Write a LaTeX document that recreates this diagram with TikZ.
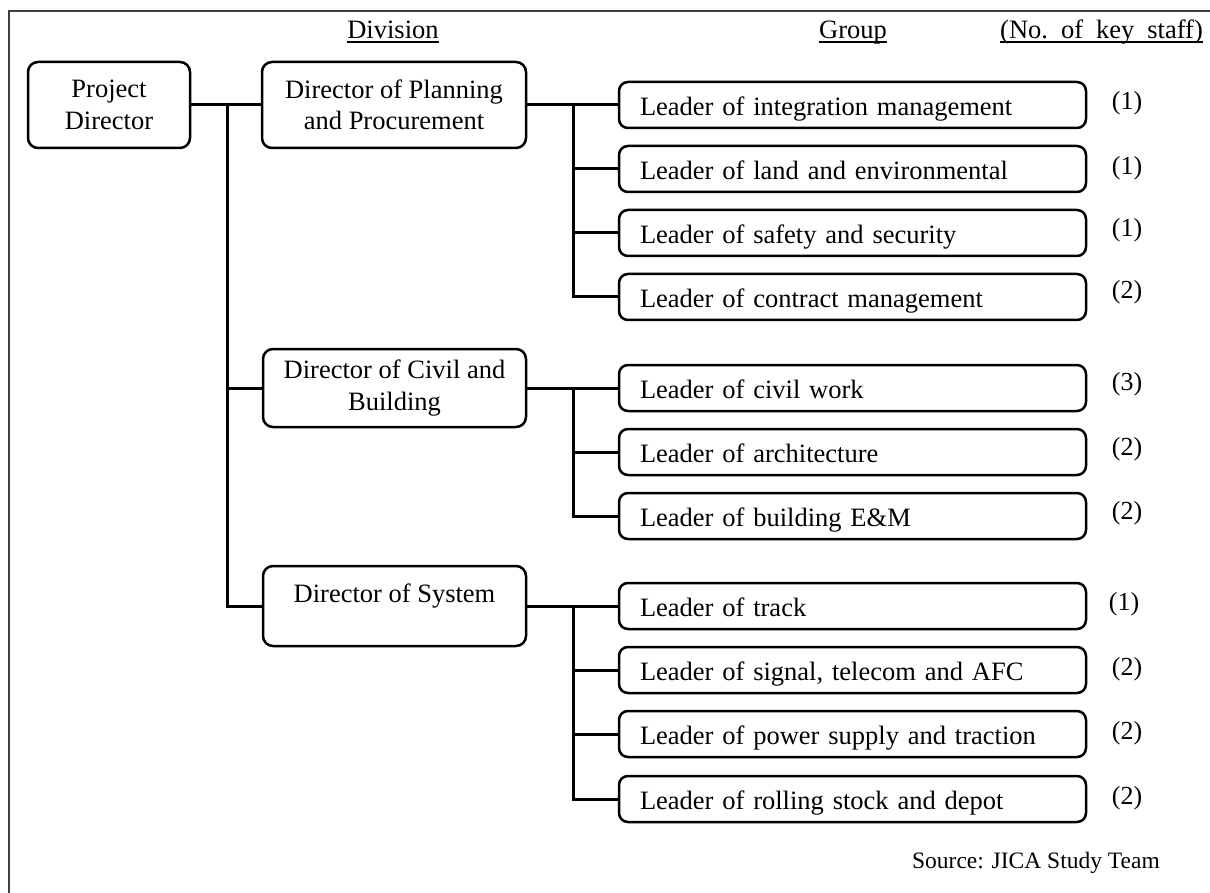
\documentclass[tikz,border=0pt]{standalone}
\usepackage{fontspec}
\setmainfont{Liberation Serif}
\begin{document}
\begin{tikzpicture}[x=1pt,y=-1pt,
  box/.style={draw, line width=2.5pt, rounded corners=10pt, align=center, inner sep=0pt,
    font=\fontsize{26.5}{31.5}\selectfont},
  leader/.style={draw, line width=2.5pt, rounded corners=9pt, minimum width=467pt,
    minimum height=46pt, text width=425pt, inner xsep=21pt, inner ysep=0pt, align=left,
    text height=21pt, text depth=0pt, font=\fontsize{26.5}{31.5}\selectfont},
  count/.style={anchor=base, inner sep=0pt, font=\fontsize{26}{30}\selectfont},
  head/.style={anchor=base, inner sep=0pt, font=\fontsize{26.5}{30}\selectfont},
  link/.style={line width=3pt},
  rule/.style={line width=1.5pt},
  frame/.style={line width=2pt, draw=black!75}]

\useasboundingbox (0,0) rectangle (1210,893);

% frame edges
\draw[frame] (9,893) -- (9,11) -- (1210,11);

% column headings
\node[head] (hdiv) at (393,39) {Division};
\node[head] (hgrp) at (853,39) {Group};
\node[head, anchor=base east] (hstaff) at (1203,39)
  {(No.\hspace*{13pt}of\hspace*{13pt}key\hspace*{13pt}staff)};
\foreach \h in {hdiv,hgrp,hstaff}
  \draw[rule] ([yshift=-3pt]\h.base west) -- ([yshift=-3pt]\h.base east);

% directors
\node[box, minimum width=162pt, minimum height=86pt] (pd) at (109,105) {Project\\Director};
\node[box, minimum width=264pt, minimum height=86pt] (plan) at (394,105)
  {Director of Planning\\and Procurement};
\node[box, minimum width=263pt, minimum height=78pt] (civ) at (394.5,388)
  {Director of Civil and\\Building};
\node[box, minimum width=263pt, minimum height=80pt] (sys) at (394.5,606) {};
\node[anchor=base, inner sep=0pt, font=\fontsize{26.5}{31.5}\selectfont] (systxt)
  at (394.5,602) {Director of System};

% group leaders
\node[leader] (g1) at (852.5,105) {Leader of integration management};
\node[leader] (g2) at (852.5,169) {Leader of land and environmental};
\node[leader] (g3) at (852.5,233) {Leader of safety and security};
\node[leader] (g4) at (852.5,297) {Leader of contract management};
\node[leader] (c1) at (852.5,388) {Leader of civil work};
\node[leader] (c2) at (852.5,452) {Leader of architecture};
\node[leader] (c3) at (852.5,516) {Leader of building E\&M};
\node[leader] (s1) at (852.5,606) {Leader of track};
\node[leader] (s2) at (852.5,670) {Leader of signal, telecom and AFC};
\node[leader] (s3) at (852.5,734) {Leader of power supply and traction};
\node[leader] (s4) at (852.5,799) {Leader of rolling stock and depot};

% key staff counts
\node[count] (n1) at (1127,110) {(1)};
\node[count] (n2) at (1127,175) {(1)};
\node[count] (n3) at (1127,237) {(1)};
\node[count] (n4) at (1127,299) {(2)};
\node[count] (n5) at (1127,390) {(3)};
\node[count] (n6) at (1127,455) {(2)};
\node[count] (n7) at (1127,519) {(2)};
\node[count] (n8) at (1124,610) {(1)};
\node[count] (n9) at (1127,675) {(2)};
\node[count] (n10) at (1127,739) {(2)};
\node[count] (n11) at (1127,804) {(2)};

% source note
\node[anchor=base east, inner sep=0pt, font=\fontsize{23.5}{28}\selectfont] (src)
  at (1160,868) {Source: JICA Study Team};

% connectors
\coordinate (tx) at (227,0);
\coordinate (bx) at (573,0);
\draw[link] (pd.east) -- (plan.west);
\draw[link] (pd.east -| tx) |- (sys.west);
\draw[link] (civ.west -| tx) -- (civ.west);

\draw[link] (plan.east) -- (g1.west);
\draw[link] (g1.west -| bx) |- (g4.west);
\foreach \n in {g2,g3} \draw[link] (\n.west -| bx) -- (\n.west);

\draw[link] (civ.east) -- (c1.west);
\draw[link] (c1.west -| bx) |- (c3.west);
\draw[link] (c2.west -| bx) -- (c2.west);

\draw[link] (sys.east) -- (s1.west);
\draw[link] (s1.west -| bx) |- (s4.west);
\foreach \n in {s2,s3} \draw[link] (\n.west -| bx) -- (\n.west);
\end{tikzpicture}
\end{document}
